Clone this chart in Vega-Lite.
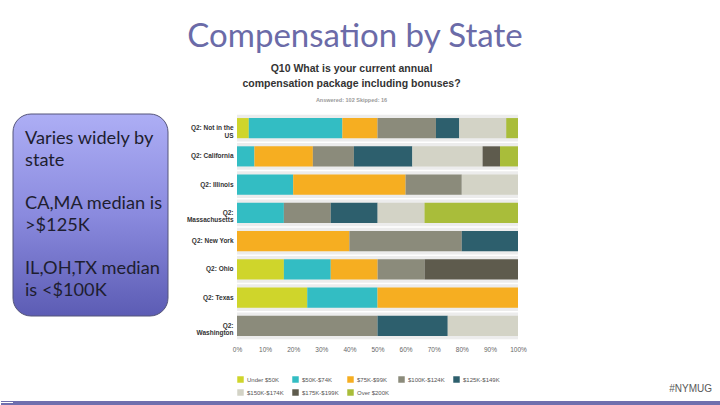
{
  "$schema": "https://vega.github.io/schema/vega-lite/v6.json",
  "padding": {"left": 0, "right": 0, "top": 21, "bottom": 0},
  "background": "white",
  "config": {
    "view": {"stroke": null},
    "font": "Liberation Sans"
  },
  "datasets": {
    "comp": [
      {"state": "Q2: Not in the US", "band": "Under $50K", "pct": 4.2},
      {"state": "Q2: Not in the US", "band": "$50K-$74K", "pct": 33.3},
      {"state": "Q2: Not in the US", "band": "$75K-$99K", "pct": 12.5},
      {"state": "Q2: Not in the US", "band": "$100K-$124K", "pct": 20.8},
      {"state": "Q2: Not in the US", "band": "$125K-$149K", "pct": 8.3},
      {"state": "Q2: Not in the US", "band": "$150K-$174K", "pct": 16.7},
      {"state": "Q2: Not in the US", "band": "Over $200K", "pct": 4.2},
      {"state": "Q2: California", "band": "$50K-$74K", "pct": 6.2},
      {"state": "Q2: California", "band": "$75K-$99K", "pct": 20.8},
      {"state": "Q2: California", "band": "$100K-$124K", "pct": 14.6},
      {"state": "Q2: California", "band": "$125K-$149K", "pct": 20.8},
      {"state": "Q2: California", "band": "$150K-$174K", "pct": 25.0},
      {"state": "Q2: California", "band": "$175K-$199K", "pct": 6.2},
      {"state": "Q2: California", "band": "Over $200K", "pct": 6.4},
      {"state": "Q2: Illinois", "band": "$50K-$74K", "pct": 20},
      {"state": "Q2: Illinois", "band": "$75K-$99K", "pct": 40},
      {"state": "Q2: Illinois", "band": "$100K-$124K", "pct": 20},
      {"state": "Q2: Illinois", "band": "$150K-$174K", "pct": 20},
      {"state": "Q2: Massachusetts", "band": "$50K-$74K", "pct": 16.7},
      {"state": "Q2: Massachusetts", "band": "$100K-$124K", "pct": 16.7},
      {"state": "Q2: Massachusetts", "band": "$125K-$149K", "pct": 16.7},
      {"state": "Q2: Massachusetts", "band": "$150K-$174K", "pct": 16.7},
      {"state": "Q2: Massachusetts", "band": "Over $200K", "pct": 33.3},
      {"state": "Q2: New York", "band": "$75K-$99K", "pct": 40},
      {"state": "Q2: New York", "band": "$100K-$124K", "pct": 40},
      {"state": "Q2: New York", "band": "$125K-$149K", "pct": 20},
      {"state": "Q2: Ohio", "band": "Under $50K", "pct": 16.7},
      {"state": "Q2: Ohio", "band": "$50K-$74K", "pct": 16.7},
      {"state": "Q2: Ohio", "band": "$75K-$99K", "pct": 16.7},
      {"state": "Q2: Ohio", "band": "$100K-$124K", "pct": 16.7},
      {"state": "Q2: Ohio", "band": "$175K-$199K", "pct": 33.3},
      {"state": "Q2: Texas", "band": "Under $50K", "pct": 25},
      {"state": "Q2: Texas", "band": "$50K-$74K", "pct": 25},
      {"state": "Q2: Texas", "band": "$75K-$99K", "pct": 50},
      {"state": "Q2: Washington", "band": "$100K-$124K", "pct": 50},
      {"state": "Q2: Washington", "band": "$125K-$149K", "pct": 25},
      {"state": "Q2: Washington", "band": "$150K-$174K", "pct": 25}
    ],
    "states": [
      {"state": "Q2: Not in the US"},
      {"state": "Q2: California"},
      {"state": "Q2: Illinois"},
      {"state": "Q2: Massachusetts"},
      {"state": "Q2: New York"},
      {"state": "Q2: Ohio"},
      {"state": "Q2: Texas"},
      {"state": "Q2: Washington"}
    ],
    "notes": [
      {"line": 0, "text": "Varies widely by"},
      {"line": 1, "text": "state"},
      {"line": 3, "text": "CA,MA median is"},
      {"line": 4, "text": ">$125K"},
      {"line": 6, "text": "IL,OH,TX median"},
      {"line": 7, "text": "is <$100K"}
    ],
    "one": [{"k": 1}]
  },
  "title": {
    "text": "Compensation by State",
    "anchor": "middle",
    "font": "Lato",
    "fontSize": 33,
    "fontWeight": "normal",
    "color": "#6b6ba8",
    "offset": 10,
    "dx": -5
  },
  "columns": 1,
  "spacing": -13,
  "resolve": {"scale": {"color": "independent"}, "legend": {"color": "independent"}},
  "concat": [
    {
      "bounds": "flush",
      "spacing": 69,
      "resolve": {"scale": {"color": "independent"}, "legend": {"color": "independent"}},
      "hconcat": [
        {
          "width": 155,
          "height": 202,
          "layer": [
            {
              "data": {"name": "one"},
              "mark": {
                "type": "rect",
                "cornerRadius": 18,
                "stroke": "#55557a",
                "strokeWidth": 1,
                "color": {
                  "gradient": "linear",
                  "x1": 0, "y1": 0, "x2": 0, "y2": 1,
                  "stops": [
                    {"offset": 0, "color": "#adaef5"},
                    {"offset": 0.5, "color": "#8a8ade"},
                    {"offset": 1, "color": "#5c5cb4"}
                  ]
                }
              },
              "encoding": {}
            },
            {
              "data": {"name": "notes"},
              "mark": {"type": "text", "align": "left", "baseline": "middle", "font": "Lato", "fontSize": 18.2, "color": "#1e1e30"},
              "encoding": {
                "x": {"value": 12},
                "y": {
                  "field": "line",
                  "type": "quantitative",
                  "scale": {"domain": [-1.154, 8.168], "reverse": true, "nice": false, "zero": false},
                  "axis": null
                },
                "text": {"field": "text"}
              }
            }
          ]
        },
        {
          "width": 281,
          "height": 226,
          "title": {
            "text": ["Q10 What is your current annual", "compensation package including bonuses?"],
            "subtitle": "Answered: 102     Skipped: 16",
            "anchor": "middle",
            "frame": "group",
            "dx": -26,
            "font": "Liberation Sans",
            "fontSize": 10.5,
            "fontWeight": "bold",
            "color": "#333333",
            "lineHeight": 15,
            "subtitleFont": "Liberation Sans",
            "subtitleFontSize": 5.5,
            "subtitleFontWeight": "bold",
            "subtitleColor": "#9a9a9a",
            "subtitlePadding": 8,
            "offset": 11
          },
          "layer": [
            {
              "data": {"name": "states"},
              "mark": {"type": "bar", "color": "#ececec"},
              "encoding": {
                "y": {"field": "state", "type": "nominal"},
                "x": {
                  "datum": 0,
                  "type": "quantitative",
                  "scale": {"domain": [0, 1]},
                  "axis": {"title": null, "format": "%", "values": [0, 0.1, 0.2, 0.3, 0.4, 0.5, 0.6, 0.7, 0.8, 0.9, 1], "grid": false, "domain": false, "ticks": false, "labelPadding": 6, "labelFont": "Liberation Sans", "labelFontSize": 6.5, "labelColor": "#666666", "labelOverlap": false, "labelFlush": false, "labelBound": false}
                },
                "x2": {"datum": 1}
              }
            },
            {
              "data": {"name": "comp"},
              "transform": [
                {"calculate": "indexof(['Under $50K','$50K-$74K','$75K-$99K','$100K-$124K','$125K-$149K','$150K-$174K','$175K-$199K','Over $200K'], datum.band)", "as": "k"}
              ],
              "mark": {"type": "bar", "height": {"band": 0.75}},
              "encoding": {
                "y": {"field": "state", "type": "nominal"},
                "x": {
                  "field": "pct",
                  "type": "quantitative",
                  "stack": "normalize",
                  "axis": {"title": null, "format": "%", "values": [0, 0.1, 0.2, 0.3, 0.4, 0.5, 0.6, 0.7, 0.8, 0.9, 1], "grid": false, "domain": false, "ticks": false, "labelPadding": 6, "labelFont": "Liberation Sans", "labelFontSize": 6.5, "labelColor": "#666666", "labelOverlap": false, "labelFlush": false, "labelBound": false}
                },
                "order": {"field": "k", "type": "quantitative"},
                "color": {
                  "field": "band",
                  "type": "nominal",
                  "scale": {
                    "domain": ["Under $50K", "$50K-$74K", "$75K-$99K", "$100K-$124K", "$125K-$149K", "$150K-$174K", "$175K-$199K", "Over $200K"],
                    "range": ["#cfd52b", "#33bdc3", "#f6ae21", "#8b8b7b", "#2d5f6d", "#d3d3c6", "#5e5b4d", "#a9bd3a"]
                  },
                  "legend": {
                    "title": null,
                    "orient": "bottom",
                    "direction": "horizontal",
                    "columns": 5,
                    "gridAlign": "none",
                    "symbolType": "square",
                    "symbolSize": 42,
                    "symbolStrokeWidth": 0,
                    "labelFont": "Liberation Sans",
                    "labelFontSize": 6,
                    "labelColor": "#555555",
                    "labelOffset": 3,
                    "columnPadding": 8,
                    "rowPadding": 6,
                    "offset": 23
                  }
                }
              }
            }
          ],
          "encoding": {
            "y": {
              "field": "state",
              "type": "nominal",
              "scale": {
                "domain": ["Q2: Not in the US", "Q2: California", "Q2: Illinois", "Q2: Massachusetts", "Q2: New York", "Q2: Ohio", "Q2: Texas", "Q2: Washington"],
                "paddingInner": 0.05,
                "paddingOuter": 0.025
              },
              "axis": {
                "title": null,
                "domain": false,
                "ticks": false,
                "grid": false,
                "labelFont": "Liberation Sans",
                "labelFontSize": 6.5,
                "labelFontWeight": "bold",
                "labelColor": "#333333",
                "labelPadding": 4,
                "labelLineHeight": 7.5,
                "labelLimit": 0,
                "labelExpr": "datum.label == 'Q2: Not in the US' ? ['Q2: Not in the', 'US'] : datum.label == 'Q2: Massachusetts' ? ['Q2:', 'Massachusetts'] : datum.label == 'Q2: Washington' ? ['Q2:', 'Washington'] : datum.label"
              }
            }
          }
        }
      ]
    },
    {
      "width": 707,
      "height": 5,
      "title": {
        "text": "#NYMUG",
        "anchor": "end",
        "frame": "group",
        "dx": -8,
        "offset": 7,
        "font": "Liberation Sans",
        "fontSize": 10,
        "fontWeight": "normal",
        "color": "#595959"
      },
      "layer": [
        {
          "data": {"name": "one"},
          "mark": {"type": "rect", "color": "#6f6fae"},
          "encoding": {}
        },
        {
          "data": {"name": "one"},
          "mark": {"type": "point", "opacity": 0},
          "encoding": {
            "y": {
              "datum": 0,
              "type": "quantitative",
              "scale": {"domain": [-1, 1], "nice": false},
              "axis": {"values": [-0.8, -0.4, 0, 0.4, 0.8], "tickSize": 12.5, "tickWidth": 1, "tickColor": "#6f6fae", "tickCap": "butt", "labels": false, "domain": false, "grid": false, "title": null, "minExtent": 0, "offset": 0}
            }
          }
        }
      ]
    }
  ]
}
